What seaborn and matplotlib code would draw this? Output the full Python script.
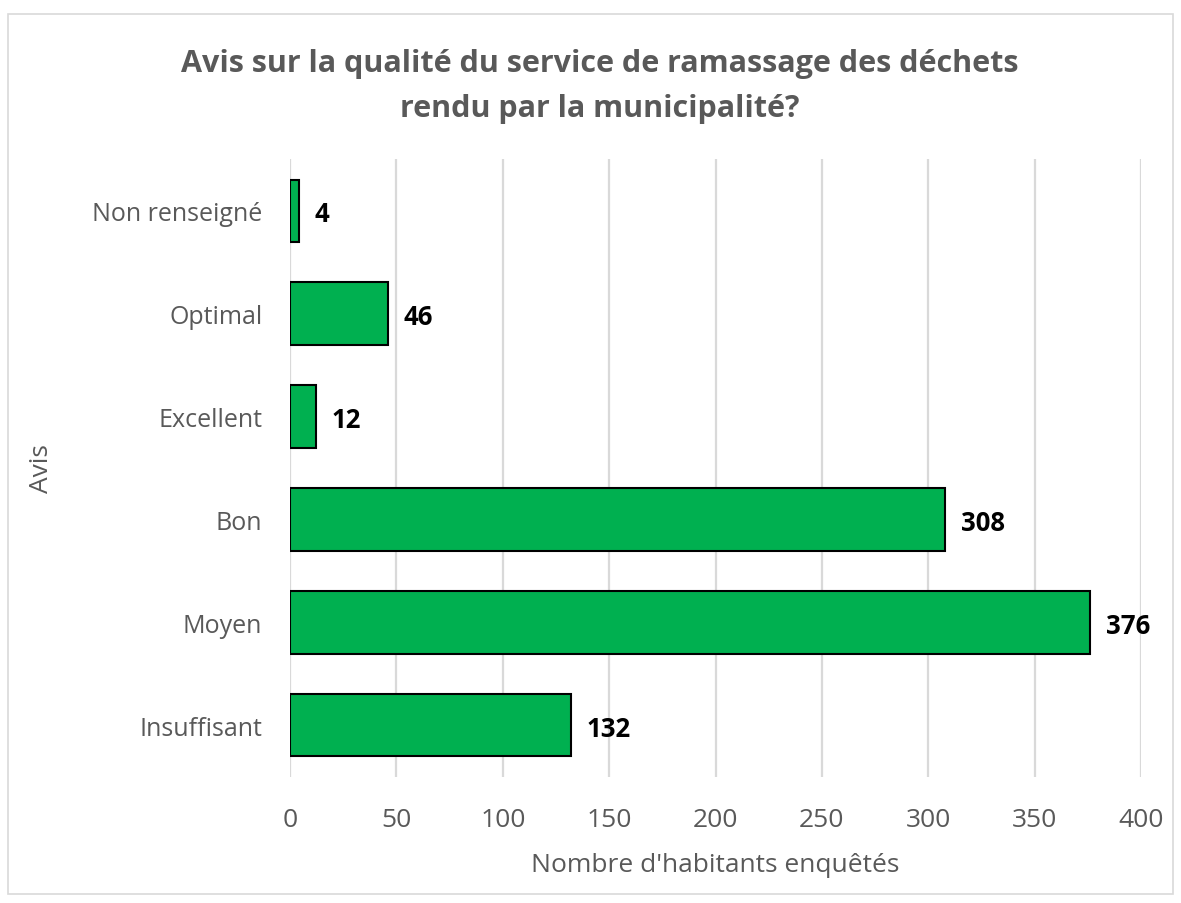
import matplotlib
matplotlib.use("Agg")
import matplotlib.pyplot as plt
import seaborn as sns
import pandas as pd
from matplotlib.patches import Rectangle

categories = ["Non renseigné", "Optimal", "Excellent", "Bon", "Moyen", "Insuffisant"]
counts = [4, 46, 12, 308, 376, 132]
x_ticks = [0, 50, 100, 150, 200, 250, 300, 350, 400]

df = pd.DataFrame({"Avis": categories, "Nombre": counts})

sns.set_theme(style="white")
plt.rcParams["font.family"] = ["Open Sans", "DejaVu Sans"]

GREEN = "#00B050"
GREY_TEXT = "#595959"
GRID = "#D9D9D9"

fig = plt.figure(figsize=(11.81, 9.04), dpi=100)
ax = fig.add_axes([0.2456, 0.1399, 0.7205, 0.6826])

sns.barplot(data=df, y="Avis", x="Nombre", order=categories, orient="h",
            color=GREEN, saturation=1, width=0.61, edgecolor="black",
            linewidth=1.5, ax=ax, zorder=3)

ax.set_xlim(0, 400)
ax.set_xticks(x_ticks)
ax.set_xticklabels([str(t) for t in x_ticks])
ax.xaxis.grid(True, color=GRID, linewidth=1.6, zorder=0)
ax.yaxis.grid(False)
for s in ax.spines.values():
    s.set_visible(False)
ax.tick_params(axis="y", length=0, labelsize=18, labelcolor=GREY_TEXT, pad=20)
ax.tick_params(axis="x", length=0, labelsize=19, labelcolor=GREY_TEXT, pad=22)

ax.set_xlabel("Nombre d'habitants enquêtés", fontsize=19, color=GREY_TEXT, labelpad=14)
ax.set_ylabel("Avis", fontsize=19, color=GREY_TEXT)
ax.yaxis.set_label_coords(-0.278, 0.5)

for i, v in enumerate(counts):
    ax.text(v + 7.5, i + 0.03, str(v), va="center", ha="left",
            fontsize=18.5, fontweight="bold", color="black")

fig.text(0.508, 0.946, "Avis sur la qualité du service de ramassage des déchets\nrendu par la municipalité?",
         ha="center", va="top", fontsize=22, fontweight="bold", color=GREY_TEXT,
         linespacing=1.68)

fig.patches.append(Rectangle((0.007, 0.01), 0.986, 0.973, transform=fig.transFigure,
                             fill=False, edgecolor="#D9D9D9", linewidth=1.2))

fig.savefig("out.png", dpi=100)
